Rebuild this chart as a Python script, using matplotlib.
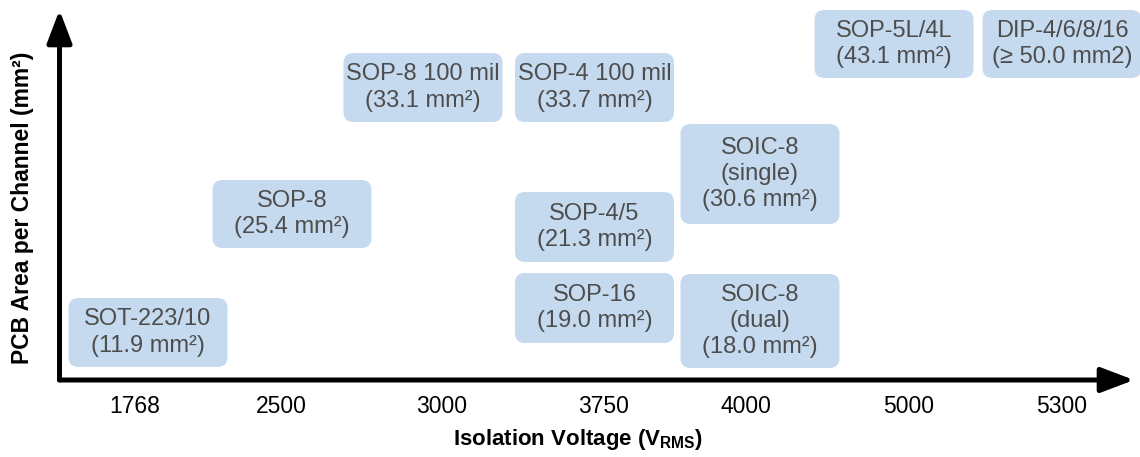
import matplotlib.pyplot as plt
from matplotlib.patches import FancyBboxPatch

plt.rcParams['font.family'] = ['Liberation Sans', 'DejaVu Sans']
plt.rcParams['mathtext.fontset'] = 'custom'
plt.rcParams['mathtext.rm'] = 'Liberation Sans'
plt.rcParams['mathtext.bf'] = 'Liberation Sans:bold'

# categories on the x axis (isolation voltage, V_RMS)
voltages = ['1768', '2500', '3000', '3750', '4000', '5000', '5300']

# packages and their PCB area per channel (mm^2)
packages = ['SOT-223/10', 'SOP-8', 'SOP-8 100 mil', 'SOP-4 100 mil', 'SOP-4/5',
            'SOP-16', 'SOIC-8\n(single)', 'SOIC-8\n(dual)', 'SOP-5L/4L', 'DIP-4/6/8/16']
areas = ['11.9 mm²', '25.4 mm²', '33.1 mm²', '33.7 mm²', '21.3 mm²',
         '19.0 mm²', '30.6 mm²', '18.0 mm²', '43.1 mm²', '≥ 50.0 mm2']

# layout (chart units, about one pixel each)
tick_pos = [75.5, 222, 382.5, 544.5, 686, 849.5, 1002.5]
box_x = [88.5, 232.5, 363.5, 535, 535, 535, 700.5, 700.5, 834.5, 1002.5]
box_bottom = [13, 132, 258, 258, 118, 37, 156, 12, 302, 302]
box_top = [82, 200, 327, 327, 188, 107, 256, 106, 370, 370]
box_w = 159

box_color = '#c5daee'
text_color = '#4d4d4d'

fig = plt.figure(figsize=(11.4, 4.57), dpi=100)
W, H = 1140, 457
ax = fig.add_axes([59.5 / W, (H - 380) / H, (1134 - 59.5) / W, (380 - 10) / H])
ax.set_xlim(0, 1134 - 59.5)
ax.set_ylim(0, 370)
for s in ax.spines.values():
    s.set_visible(False)
ax.set_yticks([])
ax.set_xticks(tick_pos)
ax.set_xticklabels(voltages, fontsize=16.5)
ax.tick_params(axis='x', length=0, pad=11)

# axes with arrow heads
arrow = dict(arrowstyle='-|>,head_length=1.0,head_width=0.38', lw=3.6,
             color='black', shrinkA=0, shrinkB=0, mutation_scale=20)
ax.annotate('', xy=(1, 0), xytext=(0, 0), xycoords='axes fraction', arrowprops=arrow)
ax.annotate('', xy=(0, 1), xytext=(0, 0), xycoords='axes fraction', arrowprops=arrow)

for i, name in enumerate(packages):
    xc = box_x[i]
    y0, y1 = box_bottom[i], box_top[i]
    patch = FancyBboxPatch((xc - box_w / 2, y0), box_w, y1 - y0,
                           boxstyle='round,pad=0,rounding_size=10',
                           fc=box_color, ec='none', clip_on=False, zorder=1)
    ax.add_patch(patch)
    ax.text(xc, (y0 + y1) / 2, name + '\n(' + areas[i] + ')', ha='center',
            va='center', fontsize=17, color=text_color, linespacing=1.25,
            clip_on=False, zorder=2)

fig.text(578 / W, 1 - 440 / H, r'Isolation Voltage (V$_\mathbf{RMS}$)',
         ha='center', va='center', fontsize=16, fontweight='bold')
fig.text(23 / W, 1 - 208 / H, 'PCB Area per Channel (mm²)', rotation=90,
         ha='center', va='center', fontsize=16.5, fontweight='bold')

fig.savefig('out.png', dpi=100)
